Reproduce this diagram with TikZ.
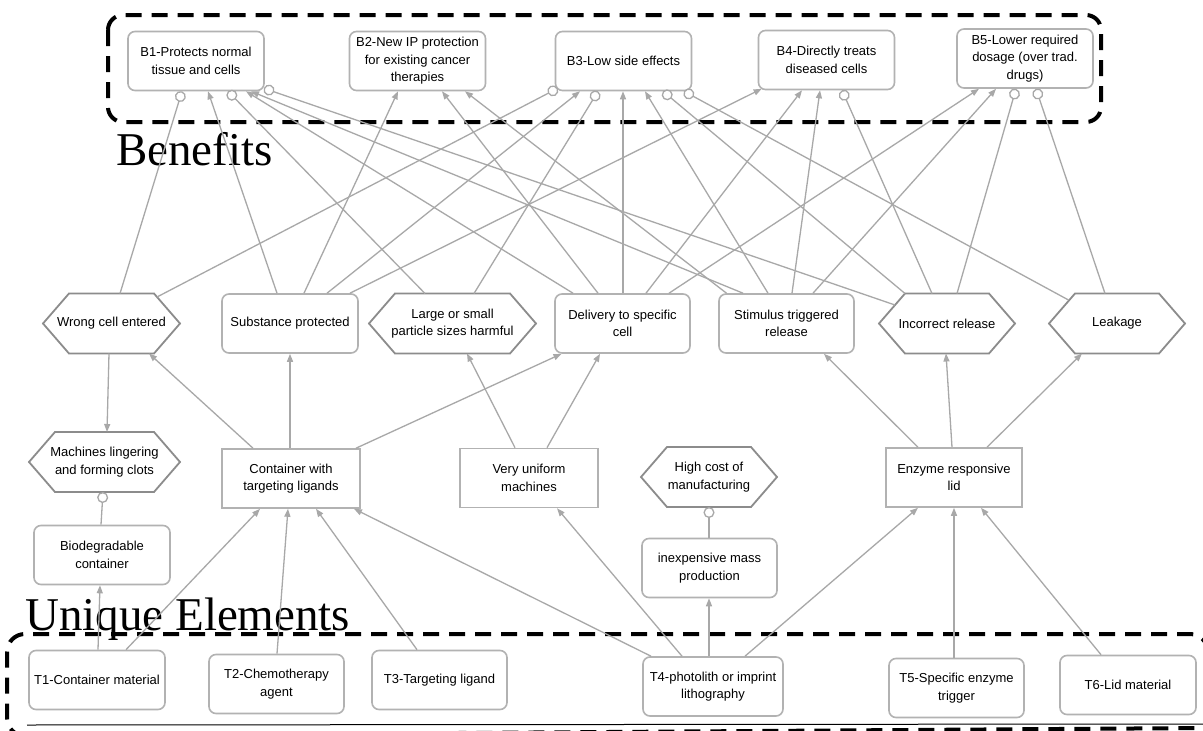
\documentclass[tikz,border=0pt]{standalone}
\usepackage{fontspec}
\setmainfont{Liberation Sans}
\newfontfamily\titlefont{Liberation Serif}
\usetikzlibrary{arrows.meta,calc}
\definecolor{edgegray}{HTML}{A8A8A8}
\definecolor{boxgray}{HTML}{B2B2B2}
\definecolor{hexgray}{HTML}{8C8C8C}
\begin{document}
\begin{tikzpicture}[x=1pt,y=-1pt,
  every node/.style={font=\fontsize{13}{17.5}\selectfont, align=center, inner sep=1pt, text=black},
  rbox/.style={draw=boxgray, line width=1.6pt, rounded corners=7pt, fill=white, minimum width=#1, minimum height=59pt},
  rbox/.default=136pt,
  sbox/.style={draw=boxgray, line width=1.6pt, fill=white, minimum width=#1, minimum height=59pt},
  sbox/.default=138pt,
  hexnode/.style={minimum width=#1, minimum height=60pt, outer sep=0pt},
  hexline/.style={draw=hexgray, line width=1.8pt},
  arr/.style={draw=edgegray, line width=1.3pt, -{Triangle[length=8pt,width=6pt]}},
  circ/.style={draw=edgegray, line width=1.3pt, -{Circle[length=11pt,fill=white]}},
  dashbox/.style={draw=black, line width=4pt, dash pattern=on 16pt off 10pt},
  bigtitle/.style={font=\titlefont\fontsize{47}{50}\selectfont, inner sep=0pt, anchor=base west}
]
\fill[white] (0,0) rectangle (1203,731);
\useasboundingbox (0,0) rectangle (1203,731);

% group frames
\draw[dashbox, rounded corners=15pt] (108,15) rectangle (1101,122);
\draw[dashbox, rounded corners=18pt] (1208,731) -- (1208,634) -- (7,634) -- (7,736) -- (1208,728);
\draw[black, line width=1pt] (27,725) -- (1203,724);

\node[bigtitle] (benefits) at (116,165) {Benefits};
\node[bigtitle] (unique) at (25,630) {Unique Elements};

% benefits
\node[rbox] (b1) at (196,61) {B1-Protects normal\\tissue and cells};
\node[rbox] (b2) at (417.5,61) {B2-New IP protection\\for existing cancer\\therapies};
\node[rbox] (b3) at (623.5,61) {B3-Low side effects};
\node[rbox] (b4) at (826.5,60) {B4-Directly treats\\diseased cells};
\node[rbox] (b5) at (1025,58.5) {B5-Lower required\\dosage (over trad.\\drugs)};

% middle row
\node[hexnode=137pt] (wc) at (111.5,323.5) {Wrong cell entered};
\node[rbox] (sp) at (290,323.5) {Substance protected};
\node[hexnode=167pt] (ls) at (452.5,323.5) {Large or small\\particle sizes harmful};
\node[rbox=135pt] (dl) at (622.5,323.5) {Delivery to specific\\cell};
\node[rbox=135pt] (st) at (786.5,323.5) {Stimulus triggered\\release};
\node[hexnode=136pt] (ir) at (947,323.5) {Incorrect release};
\node[hexnode=136pt] (lk) at (1117,323.5) {Leakage};

% lower
\node[hexnode=151pt] (ml) at (104.5,462) {Machines lingering\\and forming clots};
\node[sbox] (ct) at (291,478.5) {Container with\\targeting ligands};
\node[sbox] (vu) at (529,478) {Very uniform\\machines};
\node[hexnode=136pt] (hc) at (709,477) {High cost of\\manufacturing};
\node[sbox=136pt] (ez) at (954,477.5) {Enzyme responsive\\lid};
\node[rbox] (bd) at (102,555) {Biodegradable\\container};
\node[rbox=135pt] (im) at (709.5,568) {inexpensive mass\\production};

% unique elements
\node[rbox] (t1) at (97,680) {T1-Container material};
\node[rbox=135pt] (t2) at (276.5,684) {T2-Chemotherapy\\agent};
\node[rbox=135pt] (t3) at (439.5,680) {T3-Targeting ligand};
\node[rbox=140pt] (t4) at (713,686.5) {T4-photolith or imprint\\lithography};
\node[rbox=135pt] (t5) at (956.5,688) {T5-Specific enzyme\\trigger};
\node[rbox] (t6) at (1128,685) {T6-Lid material};

\foreach \h in {wc,ls,ir,lk,ml,hc}
  \draw[hexline] (\h.west) -- ([xshift=26pt]\h.north west) -- ([xshift=-26pt]\h.north east)
     -- (\h.east) -- ([xshift=-26pt]\h.south east) -- ([xshift=26pt]\h.south west) -- cycle;

% connectors to benefits
\draw[circ] ([xshift=8.5pt]wc.north) -- ([xshift=-14pt]b1.south);
\draw[arr] ([xshift=-13pt]sp.north) -- ([xshift=12pt]b1.south);
\draw[circ] ([xshift=-27.5pt]ls.north) -- ([xshift=32pt]b1.south);
\draw[arr] ([xshift=-49.5pt]dl.north) -- ([xshift=50pt]b1.south);
\draw[arr] ([xshift=-43.5pt]st.north) -- ([xshift=55pt]b1.south);
\draw[circ] ([xshift=16pt,yshift=18.5pt]ir.west) -- ([xshift=-1pt,yshift=3pt]b1.south east);

\draw[arr] ([xshift=14pt]sp.north) -- ([xshift=-19.5pt]b2.south);
\draw[arr] ([xshift=-24.5pt]dl.north) -- ([xshift=24.5pt]b2.south);
\draw[arr] ([xshift=-60pt]st.north) -- ([xshift=47.5pt]b2.south);

\draw[circ] ([xshift=-23pt,yshift=26.5pt]wc.east) -- ([xshift=3pt,yshift=3pt]b3.south west);
\draw[arr] ([xshift=37pt]sp.north) -- ([xshift=-43.5pt]b3.south);
\draw[circ] ([xshift=21.5pt]ls.north) -- ([xshift=-25.5pt]b3.south);
\draw[arr] ([xshift=0.5pt]dl.north) -- ([xshift=-0.5pt]b3.south);
\draw[arr] ([xshift=-18.5pt]st.north) -- ([xshift=21.5pt]b3.south);
\draw[circ] ([xshift=-42pt]ir.north) -- ([xshift=39.5pt]b3.south);
\draw[circ] ([xshift=19.5pt,yshift=23.5pt]lk.west) -- ([xshift=60.5pt]b3.south);

\draw[arr] ([xshift=60pt]sp.north) -- ([xshift=4pt,yshift=1.5pt]b4.south west);
\draw[arr] ([xshift=23.5pt]dl.north) -- ([xshift=-24.5pt]b4.south);
\draw[arr] ([xshift=5.5pt]st.north) -- ([xshift=-6.5pt]b4.south);
\draw[circ] ([xshift=-15pt]ir.north) -- ([xshift=15.5pt]b4.south);

\draw[arr] ([xshift=46.5pt]dl.north) -- ([xshift=-46pt]b5.south);
\draw[arr] ([xshift=26.5pt]st.north) -- ([xshift=-29pt]b5.south);
\draw[circ] ([xshift=10pt]ir.north) -- ([xshift=-9pt]b5.south);
\draw[circ] ([xshift=-12pt]lk.north) -- ([xshift=11pt]b5.south);

% lower connectors
\draw[arr] ([xshift=-2.5pt]wc.south) -- ([xshift=2.5pt]ml.north);
\draw[arr] ([xshift=-38pt]ct.north) -- ([xshift=37.5pt]wc.south);
\draw[arr] ([xshift=-1pt]ct.north) -- (sp.south);
\draw[arr] ([xshift=65pt]ct.north) -- ([xshift=-61pt]dl.south);
\draw[arr] ([xshift=-14pt]vu.north) -- ([xshift=14.5pt]ls.south);
\draw[arr] ([xshift=18pt]vu.north) -- ([xshift=-22.5pt]dl.south);
\draw[circ] ([xshift=-1pt]bd.north) -- ([xshift=-1.5pt]ml.south);
\draw[arr] ([xshift=1pt]t1.north) -- ([xshift=-2pt]bd.south);
\draw[arr] ([xshift=29pt]t1.north) -- ([xshift=-31pt]ct.south);
\draw[arr] ([xshift=0.5pt]t2.north) -- ([xshift=-3pt]ct.south);
\draw[arr] ([xshift=-22.5pt]t3.north) -- ([xshift=25pt]ct.south);
\draw[arr] ([xshift=-62pt]t4.north) -- ([xshift=63pt]ct.south);
\draw[arr] ([xshift=-31pt]t4.north) -- ([xshift=28pt]vu.south);
\draw[arr] ([xshift=-4pt]t4.north) -- ([xshift=-0.5pt]im.south);
\draw[circ] ([xshift=-0.5pt]im.north) -- (hc.south);
\draw[arr] ([xshift=32pt]t4.north) -- ([xshift=-36pt]ez.south);
\draw[arr] ([xshift=-2.5pt]t5.north) -- (ez.south);
\draw[arr] ([xshift=-27pt]t6.north) -- ([xshift=27pt]ez.south);
\draw[arr] ([xshift=-36pt]ez.north) -- ([xshift=37.5pt]st.south);
\draw[arr] ([xshift=-2pt]ez.north) -- ([xshift=-1pt]ir.south);
\draw[arr] ([xshift=33pt]ez.north) -- ([xshift=-35pt]lk.south);
\end{tikzpicture}
\end{document}
